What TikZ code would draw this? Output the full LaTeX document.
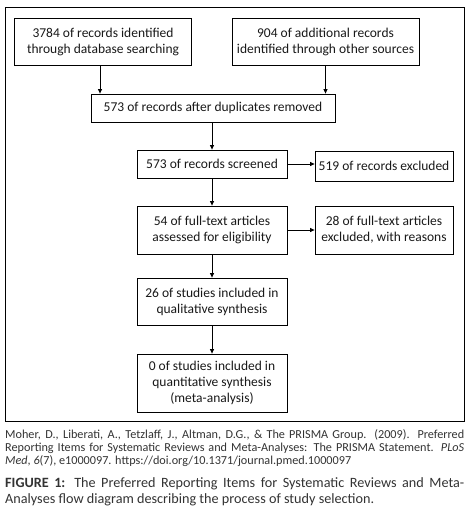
\documentclass[tikz,border=0pt]{standalone}
\usepackage{fontspec}
\setmainfont{Carlito}
\usetikzlibrary{arrows.meta,calc}
\definecolor{captxt}{HTML}{333333}
\begin{document}
\begin{tikzpicture}[x=1pt,y=-1pt,
  box/.style={draw=black,line width=0.8pt,rectangle,align=center,inner sep=1pt,
    font=\fontsize{13.5}{16}\selectfont,text=black!90},
  arr/.style={draw=black,line width=0.8pt,-{Triangle[length=4.5pt,width=4pt]}},
  frame/.style={draw=black,line width=0.8pt}]
\useasboundingbox (0,0) rectangle (472,513);
\fill[white] (0,0) rectangle (472,513);
\draw[frame] (5,7) rectangle (464,421.5);
\node[box,minimum width=177pt,minimum height=47pt] (b1) at (103,41.5) {3784 of records identified\\through database searching};
\node[box,minimum width=187pt,minimum height=47pt] (b2) at (325.5,41.5) {904 of additional records\\identified through other sources};
\node[box,minimum width=244pt,minimum height=28pt] (b3) at (213,108) {573 of records after duplicates removed};
\node[box,minimum width=150pt,minimum height=28pt] (b4) at (212,164) {573 of records screened};
\node[box,minimum width=138pt,minimum height=30pt] (b5) at (384,166) {519 of records excluded};
\node[box,minimum width=150pt,minimum height=48pt] (b6) at (212,230) {54 of full-text articles\\assessed for eligibility};
\node[box,minimum width=138pt,minimum height=48pt] (b7) at (384,230) {28 of full-text articles\\excluded, with reasons};
\node[box,minimum width=150pt,minimum height=47pt] (b8) at (212,301.5) {26 of studies included in\\qualitative synthesis};
\node[box,minimum width=150pt,minimum height=58pt] (b9) at (212,383) {0 of studies included in\\quantitative synthesis\\(meta-analysis)};
\draw[arr] ($(b1.south)+(-3,0)$) -- ($(b1.south |- b3.north)+(-3,0)$);
\draw[arr] (b2.south) -- (b2.south |- b3.north);
\draw[arr] (b4.north |- b3.south) -- (b4.north);
\draw[arr] (b4.east) -- (b4.east -| b5.west);
\draw[arr] (b4) -- (b6);
\draw[arr] (b6.east) -- (b6.east -| b7.west);
\draw[arr] (b6) -- (b8);
\draw[arr] (b8) -- (b9);
\node[anchor=north west,inner sep=0pt,text width=459pt,align=justify,text=captxt,
  font=\fontsize{12.2}{13}\selectfont] (ref) at (5,429)
  {Moher, D., Liberati, A., Tetzlaff, J., Altman, D.G., \& The PRISMA Group. (2009). Preferred\linebreak
   Reporting Items for Systematic Reviews and Meta-Analyses: The PRISMA Statement. \textit{PLoS}\linebreak
   \textit{Med}, \textit{6}(7), e1000097. https://doi.org/10.1371/journal.pmed.1000097};
\node[anchor=north west,inner sep=0pt,text width=459pt,align=justify,text=captxt,
  font=\fontsize{14.2}{16}\selectfont] (cap) at (5,477)
  {\textbf{FIGURE 1:} The Preferred Reporting Items for Systematic Reviews and Meta-\linebreak
   Analyses flow diagram describing the process of study selection.};
\end{tikzpicture}
\end{document}
